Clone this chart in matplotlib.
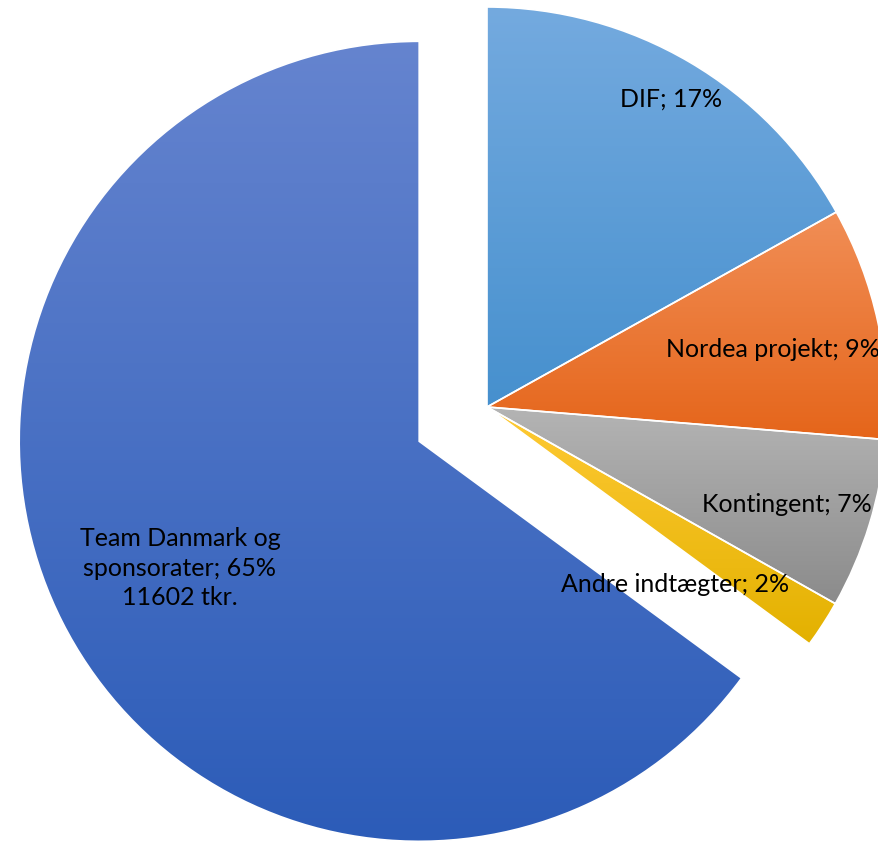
import numpy as np
import matplotlib
matplotlib.use("Agg")
import matplotlib.pyplot as plt
from matplotlib.colors import LinearSegmentedColormap

# ---- data (tkr.) ----
categories = ["DIF", "Nordea projekt", "Kontingent", "Andre indtægter",
              "Team Danmark og\nsponsorater"]
values_tkr = [3020, 1680, 1230, 340, 11602]
explode_frac = [0, 0, 0, 0, 0.19]

# gradient colours (top, bottom) per slice
grad_colors = [("#74AADF", "#4690CE"),
               ("#F18E56", "#E5651A"),
               ("#B4B4B4", "#8B8B8B"),
               ("#FFCA35", "#E3B100"),
               ("#6584CF", "#2C5CB8")]

W, H = 879, 845
fig = plt.figure(figsize=(W / 100, H / 100), dpi=100)
ax = fig.add_axes([0, 0, 1, 1])

cx, cy = 487, H - 408
R = 400
wedges, _ = ax.pie(values_tkr, explode=[e * R for e in explode_frac],
                   startangle=90, counterclock=False,
                   center=(cx, cy), radius=R,
                   wedgeprops=dict(edgecolor="white", linewidth=1.2))
ax.set_xlim(0, W)
ax.set_ylim(0, H)
ax.set_aspect("equal")
ax.axis("off")

for w, (top, bot) in zip(wedges, grad_colors):
    ext = w.get_path().get_extents()
    cmap = LinearSegmentedColormap.from_list("g", [bot, top])
    grad = np.linspace(0, 1, 256).reshape(-1, 1)
    im = ax.imshow(grad, cmap=cmap, origin="lower", aspect="auto",
                   extent=(ext.x0, ext.x1, ext.y0, ext.y1), zorder=1,
                   interpolation="bilinear")
    im.set_clip_path(w)
    w.set_facecolor("none")
    w.set_zorder(2)

ax.set_xlim(0, W)
ax.set_ylim(0, H)

total = sum(values_tkr)
pcts = [round(100 * v / total) for v in values_tkr]

font = dict(family=["Lato", "DejaVu Sans"], fontsize=18, color="black", zorder=5)
label_pos = [(671, 99), (773, 350), (787, 504), (675, 585), (180, 568)]
for i, (cat, p) in enumerate(zip(categories, pcts)):
    txt = f"{cat}; {p}%"
    if i == 4:
        txt += f"\n{values_tkr[i]} tkr."
    x, y = label_pos[i]
    ax.text(x, H - y, txt, ha="center", va="center", linespacing=1.32, **font)

fig.savefig("out.png", dpi=100)
